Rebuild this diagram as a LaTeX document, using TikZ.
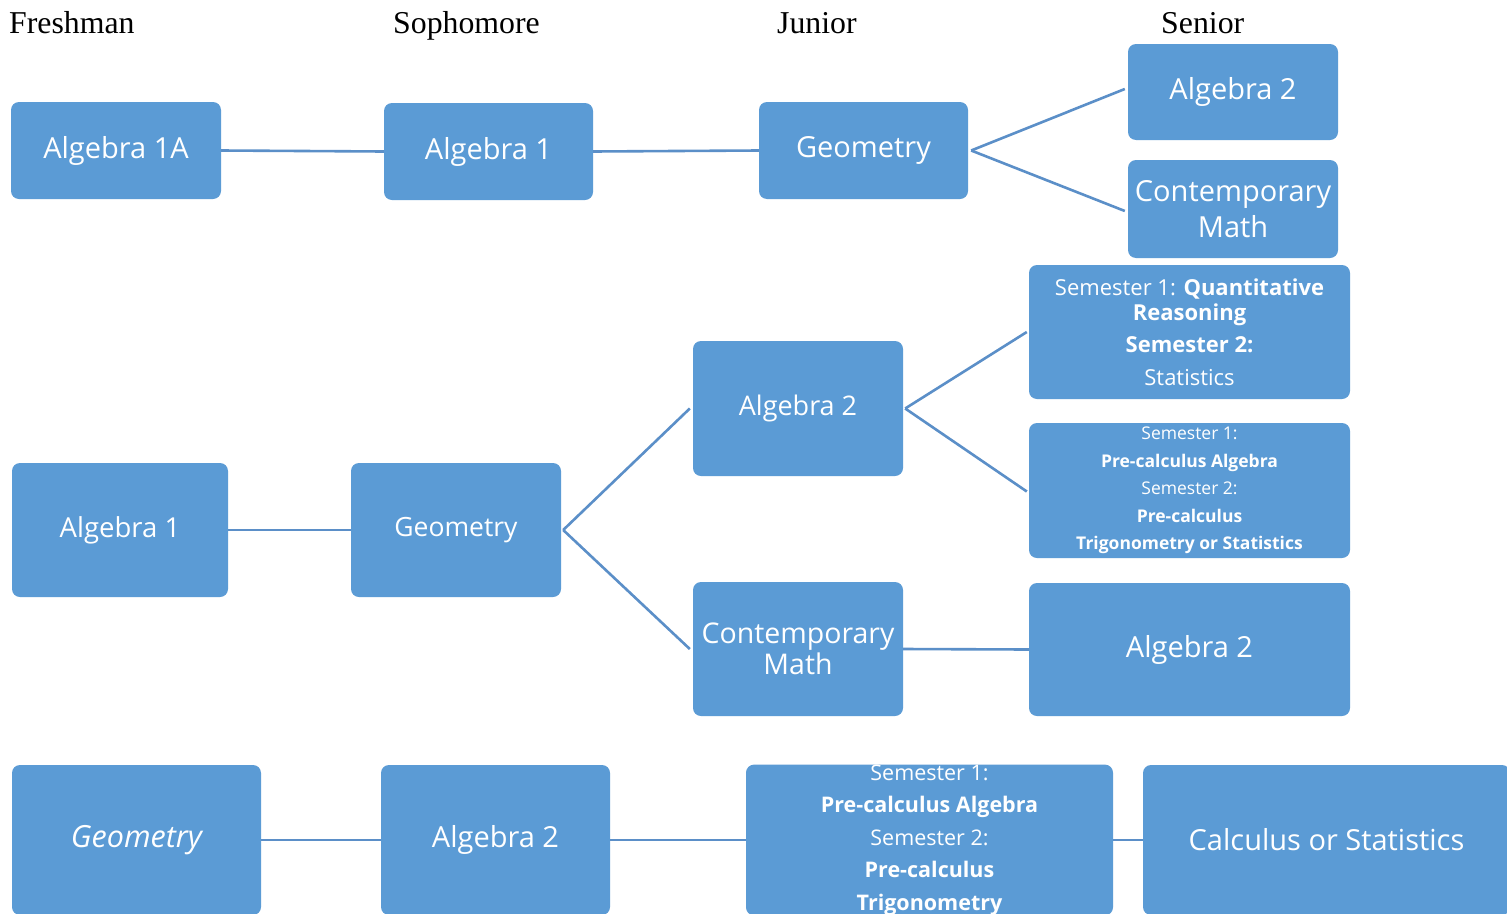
\documentclass[tikz,border=0pt]{standalone}
\usepackage{fontspec}
\setmainfont{Liberation Serif}
\newfontfamily\boxfont{Open Sans}
\definecolor{boxblue}{HTML}{5B9BD5}
\definecolor{lineblue}{HTML}{5B8FC8}
\newcommand{\fs}[2]{\boxfont\fontsize{#1}{#2}\selectfont}
\tikzset{
  box/.style={fill=boxblue, rounded corners=8pt, text=white, inner sep=0pt, align=center, font=\fs{29}{34}},
  link/.style={draw=lineblue, line width=2.6pt},
  thinlink/.style={draw=lineblue, line width=1.5pt},
  hdr/.style={anchor=base west, inner sep=0pt, font=\fontsize{31.8}{34}\selectfont}
}
\begin{document}
\begin{tikzpicture}[x=1pt,y=-1pt]
\clip (0,0) rectangle (1507,913);
\fill[white] (0,0) rectangle (1507,913);
% headers
\node[hdr] (h1) at (9,33) {Freshman};
\node[hdr] (h2) at (393,33) {Sophomore};
\node[hdr] (h3) at (777,33) {Junior};
\node[hdr] (h4) at (1161,33) {Senior};
% row 1
\node[box, minimum width=210pt, minimum height=97pt] (a1a) at (116,150.5) {Algebra 1A};
\node[box, minimum width=209pt, minimum height=97pt] (r1alg1) at (488.5,151.5) {Algebra 1};
\node[box, minimum width=209pt, minimum height=97pt] (r1geo) at (863.5,150.5) {Geometry};
\node[box, minimum width=210pt, minimum height=96pt] (r1alg2) at (1233,92) {Algebra 2};
\node[box, minimum width=210pt, minimum height=98pt, font=\fs{29}{36}] (r1cm) at (1233,209) {Contemporary\\Math};
\draw[link] (a1a.east) -- (r1alg1.west);
\draw[link] (r1alg1.east) -- (r1geo.west);
\draw[link] ([xshift=3pt]r1geo.east) -- ([xshift=-3pt,yshift=3pt]r1alg2.west);
\draw[link] ([xshift=3pt]r1geo.east) -- ([xshift=-3pt,yshift=-2pt]r1cm.west);
% row 2
\node[box, minimum width=216pt, minimum height=134pt, font=\fs{27.5}{32}] (r2alg1) at (120,530) {Algebra 1};
\node[box, minimum width=210pt, minimum height=134pt, font=\fs{26.5}{32}] (r2geo) at (456,530) {Geometry};
\node[box, minimum width=210pt, minimum height=135pt, font=\fs{27}{32}] (r2alg2) at (798,408.5) {Algebra 2};
\node[box, minimum width=210pt, minimum height=134pt, font=\fs{28.5}{31}] (r2cm) at (798,649) {Contemporary\\Math};
\node[box, minimum width=321pt, minimum height=134pt, font=\fs{22}{25}] (s1) at (1189.5,332)
  {Semester 1: \textbf{Quantitative}\\\textbf{Reasoning}\\[7pt]\textbf{Semester 2:}\\[8pt]Statistics};
\node[box, minimum width=321pt, minimum height=135pt, font=\fs{17.5}{27.5}] (s2) at (1189.5,490.5)
  {Semester 1:\\\textbf{Pre-calculus Algebra}\\Semester 2:\\\textbf{Pre-calculus}\\\textbf{Trigonometry or Statistics}};
\node[box, minimum width=321pt, minimum height=133pt, font=\fs{29}{34}] (r2alg2b) at (1189.5,649.5) {Algebra 2};
\draw[link] (r2alg1.east) -- (r2geo.west);
\draw[link] ([xshift=2pt]r2geo.east) -- ([xshift=-3pt]r2alg2.west);
\draw[link] ([xshift=2pt]r2geo.east) -- ([xshift=-3pt]r2cm.west);
\draw[link] ([xshift=2pt]r2alg2.east) -- ([xshift=-2pt]s1.west);
\draw[link] ([xshift=2pt]r2alg2.east) -- ([xshift=-2pt,yshift=-1pt]s2.west);
\draw[link] (r2cm.east) -- (r2alg2b.west);
% row 3
\node[box, minimum width=249pt, minimum height=150pt, font=\fs{30.5}{34}] (r3geo) at (136.5,840) {\itshape Geometry};
\node[box, minimum width=229pt, minimum height=150pt] (r3alg2) at (495.5,840) {Algebra 2};
\node[box, minimum width=367pt, minimum height=150pt, font=\fs{21.5}{32.5}] (s3) at (929.5,840)
  {Semester 1:\\\textbf{Pre-calculus Algebra}\\Semester 2:\\\textbf{Pre-calculus}\\\textbf{Trigonometry}};
\node[box, minimum width=367pt, minimum height=150pt] (calc) at (1326.5,840) {Calculus or Statistics};
\draw[thinlink] (r3geo.east) -- (r3alg2.west);
\draw[thinlink] (r3alg2.east) -- (s3.west);
\draw[thinlink] (s3.east) -- (calc.west);
\end{tikzpicture}
\end{document}
